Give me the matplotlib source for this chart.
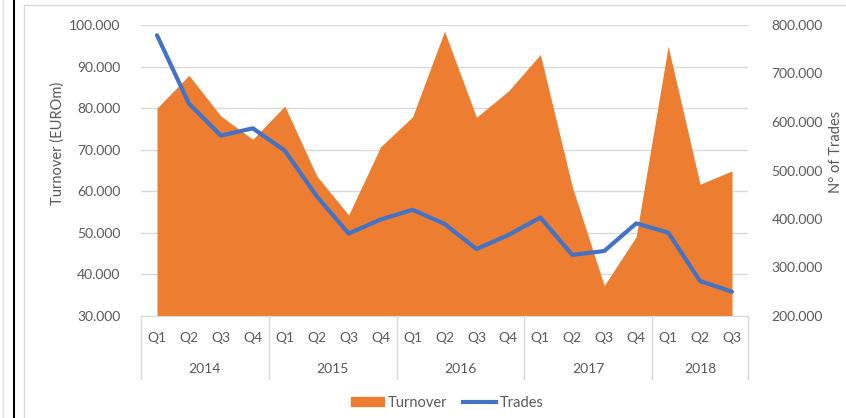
import matplotlib
matplotlib.use("Agg")
import matplotlib.pyplot as plt
from matplotlib.lines import Line2D
from matplotlib.patches import Patch
from matplotlib.ticker import FuncFormatter
import matplotlib.transforms as mtransforms

plt.rcParams["font.family"] = ["Lato", "DejaVu Sans"]

# Daten
quarters = ["Q1", "Q2", "Q3", "Q4"] * 4 + ["Q1", "Q2", "Q3"]
years = ["2014", "2015", "2016", "2017", "2018"]
year_sizes = [4, 4, 4, 4, 3]
turnover = [80000, 87900, 78100, 72500, 80500, 63700, 54300, 70700, 77900,
            98500, 77800, 84100, 92900, 61100, 37300, 49100, 94900, 61700, 64900]
trades = [779000, 638000, 572000, 587000, 541000, 447000, 370000, 399000, 419000,
          390000, 338000, 367000, 403000, 326000, 334000, 391000, 372000, 272000, 250000]

ORANGE = "#ED7D31"
BLUE = "#4472C4"
TXT = "#595959"
GRID = "#D9D9D9"

W, H = 846, 418
fig = plt.figure(figsize=(W / 100, H / 100), dpi=100)
ax = fig.add_axes([141 / W, (H - 316) / H, 607 / W, 291 / H])

x = list(range(len(turnover)))
ax.fill_between(x, 30000, turnover, color=ORANGE, linewidth=0, zorder=2)
ax.set_xlim(-0.5, len(x) - 0.5)
ax.set_ylim(30000, 100000)
ax.set_yticks(range(30000, 100001, 10000))
ax.yaxis.set_major_formatter(FuncFormatter(lambda v, p: f"{int(v):,}".replace(",", ".")))
ax.grid(axis="y", color=GRID, linewidth=1, zorder=0)
ax.set_axisbelow(True)
ax.set_xticks([])
for s in ["top", "right", "left"]:
    ax.spines[s].set_visible(False)
ax.spines["bottom"].set_color(GRID)
ax.tick_params(axis="y", length=0, pad=15, labelsize=10, labelcolor=TXT)

ax2 = ax.twinx()
ax2.plot(x, trades, color=BLUE, linewidth=3, solid_capstyle="round", zorder=3)
ax2.set_ylim(200000, 800000)
ax2.set_yticks(range(200000, 800001, 100000))
ax2.yaxis.set_major_formatter(FuncFormatter(lambda v, p: f"{int(v):,}".replace(",", ".")))
for s in ["top", "right", "left", "bottom"]:
    ax2.spines[s].set_visible(False)
ax2.tick_params(axis="y", length=0, pad=17, labelsize=10, labelcolor=TXT)

# Achsentitel wie im Excel-Original platziert
fig.text(57.5 / W, 1 - 143 / H, "Turnover (EUROm)", rotation=90, ha="center",
         va="center", fontsize=10.5, color=TXT)
fig.text(836 / W, 1 - 152 / H, "N° of Trades", rotation=90, ha="center",
         va="center", fontsize=10.5, color=TXT)

# Mehrstufige Kategorienachse
trans = mtransforms.blended_transform_factory(ax.transData, ax.transAxes)
for i, q in enumerate(quarters):
    ax.text(i, -22 / 291, q, transform=trans, ha="center", va="center",
            fontsize=10, color=TXT)
start = 0
bounds = [-0.5]
for yr, n in zip(years, year_sizes):
    ax.text(start + (n - 1) / 2, -53 / 291, yr, transform=trans, ha="center",
            va="center", fontsize=10, color=TXT)
    start += n
    bounds.append(start - 0.5)
for b in bounds:
    ax.plot([b, b], [0, -63 / 291], transform=trans, color=GRID, linewidth=1,
            clip_on=False)

# Legende
handles = [Patch(color=ORANGE, label="Turnover"),
           Line2D([0], [0], color=BLUE, linewidth=3, label="Trades")]
fig.legend(handles=handles, loc="center", bbox_to_anchor=(447 / W, 1 - 403 / H),
           ncol=2, frameon=False, fontsize=10.5, labelcolor=TXT,
           handlelength=2.3, columnspacing=1.1, handletextpad=0.2,
           handleheight=0.6)

# Rahmen wie im Screenshot
fig.add_artist(Line2D([3 / W, 3 / W], [0, 1], color="#E0E0E0", linewidth=1))
fig.add_artist(Line2D([14 / W, 14 / W], [0, 1], color="black", linewidth=1.5))
fig.add_artist(Line2D([24 / W, 24 / W], [0, 1 - 5 / H], color="#D9D9D9", linewidth=1))
fig.add_artist(Line2D([24 / W, 1], [1 - 5 / H, 1 - 5 / H], color="#D9D9D9", linewidth=1))

fig.savefig("out.png", dpi=100)
